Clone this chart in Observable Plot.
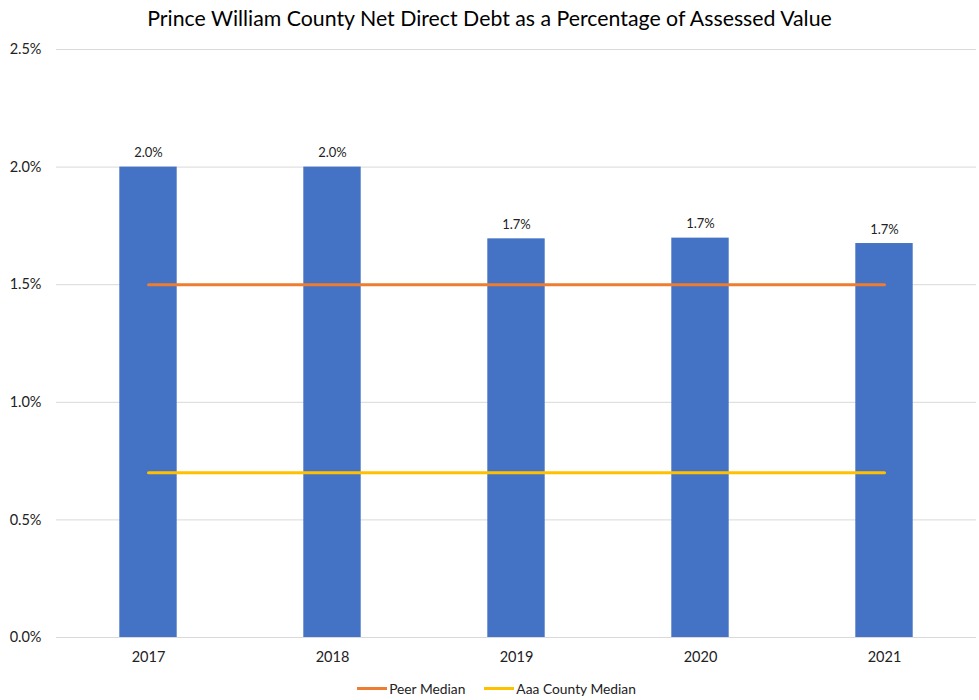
<!DOCTYPE html>
<html>
<head>
<meta charset="utf-8">
<script src="https://cdn.jsdelivr.net/npm/d3@7"></script>
<script src="https://cdn.jsdelivr.net/npm/@observablehq/plot@0.6"></script>
<style>
  body { margin: 0; background: #fff; font-family: Lato, "Open Sans", sans-serif; }
  #title { height: 36px; line-height: 36px; text-align: center; font-size: 21.3px; color: #000; }
  #legend { display: flex; justify-content: center; align-items: center; gap: 19px; font-size: 13.8px; color: #222; height: 20px; padding-left: 14px; }
  .item { display: flex; align-items: center; gap: 2px; }
  .sw { width: 30px; height: 3px; display: inline-block; }
</style>
</head>
<body>
<div id="title">Prince William County Net Direct Debt as a Percentage of Assessed Value</div>
<div id="chart"></div>
<div id="legend"></div>
<script>
const years = ["2017", "2018", "2019", "2020", "2021"];
const debtPct = [2.0, 2.0, 1.695, 1.698, 1.675];
const peerMedian = [1.5, 1.5, 1.5, 1.5, 1.5];
const aaaMedian = [0.7, 0.7, 0.7, 0.7, 0.7];
const yTicks = [0, 0.5, 1.0, 1.5, 2.0, 2.5];
const seriesNames = ["Peer Median", "Aaa County Median"];
const seriesColors = ["#ed7d31", "#ffc000"];
const barColor = "#4472c4";

const data = years.map((y, i) => ({year: y, debt: debtPct[i], peer: peerMedian[i], aaa: aaaMedian[i]}));

const plot = Plot.plot({
  width: 979,
  height: 642,
  marginTop: 13,
  marginBottom: 41,
  marginLeft: 56,
  marginRight: 3,
  style: {fontFamily: "Lato, 'Open Sans', sans-serif", fontSize: "14px", color: "#222"},
  x: {domain: years, padding: 0},
  y: {domain: [0, 2.5]},
  marks: [
    Plot.gridY(yTicks, {stroke: "#d9d9d9", strokeOpacity: 1}),
    Plot.axisY(yTicks, {tickSize: 0, tickPadding: 15, fontSize: 14.5, label: null, tickFormat: d => d.toFixed(1) + "%"}),
    Plot.axisX(years, {tickSize: 0, tickPadding: 14, fontSize: 14.5, label: null}),
    Plot.barY(data, {x: "year", y: "debt", fill: barColor, insetLeft: 63.3, insetRight: 63.3}),
    Plot.text(data, {x: "year", y: "debt", text: d => d.debt.toFixed(1) + "%", dy: -14, fontSize: 13, fill: "#222"}),
    Plot.lineY(data, {x: "year", y: "peer", stroke: seriesColors[0], strokeWidth: 3}),
    Plot.lineY(data, {x: "year", y: "aaa", stroke: seriesColors[1], strokeWidth: 3}),
    Plot.ruleY([0], {stroke: "#d9d9d9"})
  ]
});
document.getElementById("chart").appendChild(plot);

const legend = document.getElementById("legend");
seriesNames.forEach((name, i) => {
  const item = document.createElement("div");
  item.className = "item";
  const sw = document.createElement("span");
  sw.className = "sw";
  sw.style.background = seriesColors[i];
  const t = document.createElement("span");
  t.textContent = name;
  item.appendChild(sw);
  item.appendChild(t);
  legend.appendChild(item);
});
</script>
</body>
</html>
